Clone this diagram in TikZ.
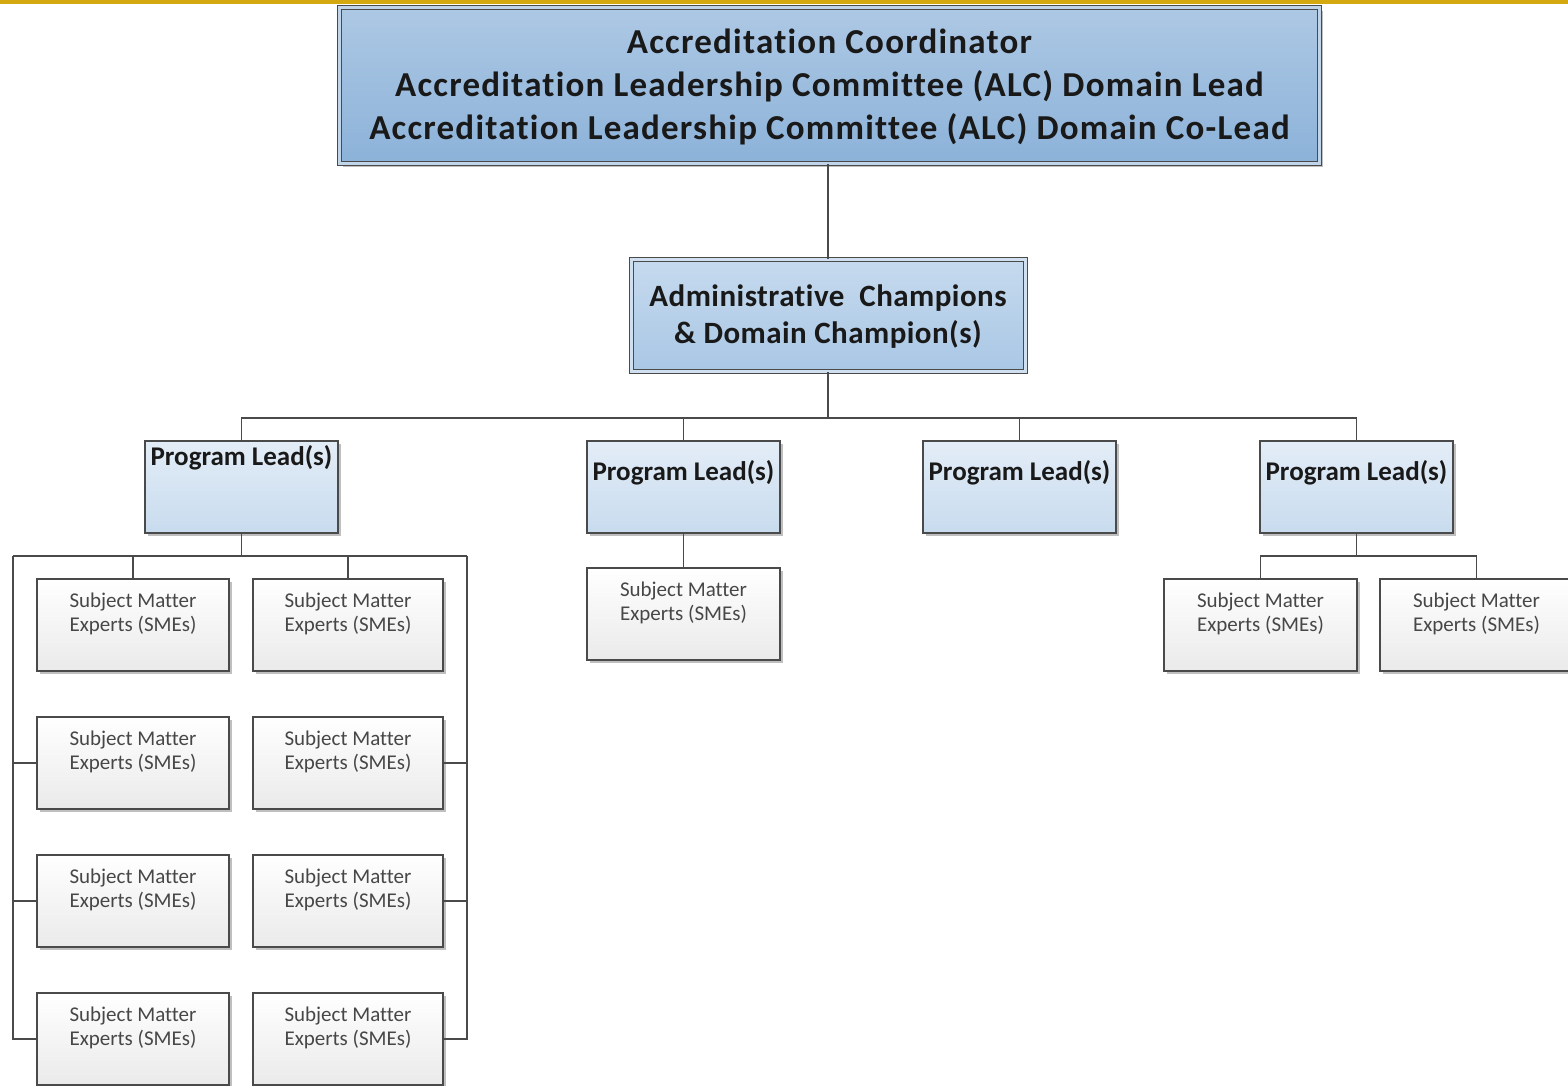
\documentclass[tikz,border=0pt]{standalone}
\usepackage{fontspec}
\setmainfont{Carlito}[Ligatures={NoCommon}]
\usetikzlibrary{shadows}
\definecolor{gold}{HTML}{D4A90F}
\definecolor{edge}{HTML}{4A4A4A}
\definecolor{topA}{HTML}{ADC8E4}
\definecolor{topB}{HTML}{8CB2D9}
\definecolor{admA}{HTML}{C6DAEE}
\definecolor{admB}{HTML}{A9C7E5}
\definecolor{plA}{HTML}{E3EDF7}
\definecolor{plB}{HTML}{C8DBEE}
\definecolor{smeA}{HTML}{FFFFFF}
\definecolor{smeB}{HTML}{EAEAEA}
\tikzset{
  shad/.style={drop shadow={shadow xshift=3pt, shadow yshift=-3pt, opacity=0.25, fill=black}},
  dbox/.style={rectangle, draw=edge, line width=1pt, double=#1, double distance=3pt, shad},
  topbox/.style={dbox=topB!55!white, top color=topA, bottom color=topB, minimum width=980pt, minimum height=156pt},
  admbox/.style={dbox=admB!55!white, top color=admA, bottom color=admB, minimum width=394pt, minimum height=112pt},
  plbox/.style={rectangle, draw=edge, line width=1.1pt, top color=plA, bottom color=plB, minimum width=193pt, minimum height=92pt, shad},
  smebox/.style={rectangle, draw=edge, line width=1.1pt, top color=smeA, bottom color=smeB, minimum width=192pt, minimum height=92pt, shad},
  toptxt/.style={font=\bfseries\fontsize{35}{43}\selectfont\addfontfeature{LetterSpace=3.5}, align=center, text=black!90},
  admtxt/.style={font=\bfseries\fontsize{31}{37}\selectfont\addfontfeature{LetterSpace=1.5}, align=center, text=black!90},
  pltxt/.style={font=\bfseries\fontsize{27}{30}\selectfont, text=black!90, anchor=north, inner sep=0pt},
  smetxt/.style={font=\fontsize{21}{24}\selectfont, align=center, text=black!72, anchor=north, inner sep=0pt},
  conn/.style={draw=edge, line width=1.4pt},
}
\begin{document}
\begin{tikzpicture}[x=1pt,y=-1pt]
\clip (0,0) rectangle (1568,1085);
\fill[white] (0,0) rectangle (1568,1085);
\fill[gold] (0,0) rectangle (1568,3.5);

% top box
\node[topbox] (top) at (829.5,85.5) {};
\node[toptxt] (toptext) at ([yshift=-1pt]top.center) {Accreditation Coordinator\\Accreditation Leadership Committee (ALC) Domain Lead\\Accreditation Leadership Committee (ALC) Domain Co-Lead};

% admin box
\node[admbox] (adm) at (828,315) {};
\node[admtxt] (admtext) at ([yshift=-2pt]adm.center) {Administrative\ \ Champions\\\& Domain Champion(s)};

% program leads
\node[plbox] (pl1) at (241.5,487) {};
\node[plbox] (pl2) at (683.5,487) {};
\node[plbox] (pl3) at (1019.5,487) {};
\node[plbox] (pl4) at (1356.5,487) {};
\node[pltxt] (pl1t) at ([yshift=-5pt]pl1.north) {Program Lead(s)};
\node[pltxt] (pl2t) at ([yshift=-20pt]pl2.north) {Program Lead(s)};
\node[pltxt] (pl3t) at ([yshift=-20pt]pl3.north) {Program Lead(s)};
\node[pltxt] (pl4t) at ([yshift=-20pt]pl4.north) {Program Lead(s)};

% SMEs left group
\foreach \r/\y in {1/625,2/763,3/901,4/1039}{
  \node[smebox] (s\r a) at (133,\y) {};
  \node[smebox, minimum width=190pt] (s\r b) at (348,\y) {};
  \node[smetxt] (s\r at) at ([yshift=-14pt]s\r a.north) {Subject Matter\\Experts (SMEs)};
  \node[smetxt] (s\r bt) at ([yshift=-14pt]s\r b.north) {Subject Matter\\Experts (SMEs)};
}
% SME under PL2
\node[smebox, minimum width=193pt] (m2) at (683.5,614) {};
\node[smetxt] (m2t) at ([yshift=-14pt]m2.north) {Subject Matter\\Experts (SMEs)};
% SMEs under PL4
\node[smebox, minimum width=193pt] (r1) at (1260.5,625) {};
\node[smebox, minimum width=193pt] (r2) at (1476.5,625) {};
\node[smetxt] (r1t) at ([yshift=-14pt]r1.north) {Subject Matter\\Experts (SMEs)};
\node[smetxt] (r2t) at ([yshift=-14pt]r2.north) {Subject Matter\\Experts (SMEs)};

% connectors
\coordinate (bus) at (828,418);
\draw[conn] (adm.north |- top.south) -- (adm.north);
\draw[conn] (adm.south) -- (bus);
\draw[conn] (pl1.north) |- (bus) -| (pl4.north);
\draw[conn] (pl2.north) |- (bus);
\draw[conn] (pl3.north) |- (bus);

\coordinate (lb) at (241.5,556);
\coordinate (lL) at (13,556);
\coordinate (lR) at (467,556);
\draw[conn] (pl1.south) -- (lb);
\draw[conn] (lL) -- (lR);
\draw[conn] (s1a.north) |- (lb);
\draw[conn] (s1b.north) |- (lb);
\draw[conn] (s4a.west) -| (lL);
\draw[conn] (s2a.west) -| (lL);
\draw[conn] (s3a.west) -| (lL);
\draw[conn] (s4b.east) -| (lR);
\draw[conn] (s2b.east) -| (lR);
\draw[conn] (s3b.east) -| (lR);

\draw[conn] (pl2.south) -- (m2.north);

\coordinate (rb) at (1356.5,556);
\draw[conn] (pl4.south) -- (rb);
\draw[conn] (r1.north) |- (rb) -| (r2.north);
\end{tikzpicture}
\end{document}
